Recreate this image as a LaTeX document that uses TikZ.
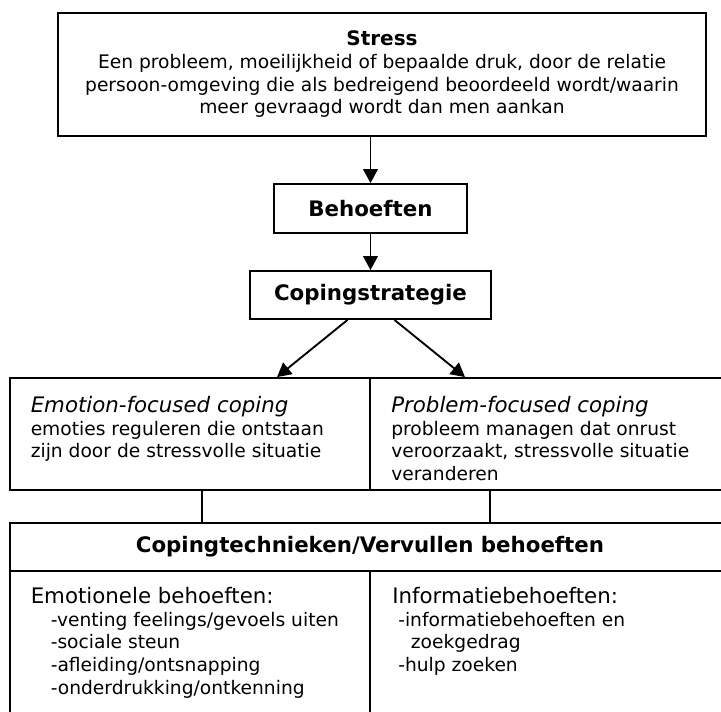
\documentclass[tikz,border=0pt]{standalone}
\usepackage{fontspec}
\setmainfont{DejaVu Sans}
\usetikzlibrary{positioning,arrows.meta,calc}
\newcommand{\hdfont}{\fontsize{16}{17}\selectfont}

\begin{document}
\begin{tikzpicture}[x=0.75pt, y=-0.75pt,
  blk/.style={draw, line width=1.4pt, inner sep=0pt, align=center, font=\fontsize{14}{17}\selectfont},
  cell/.style={draw, line width=1.4pt, inner sep=0pt, minimum width=270pt},
  txt/.style={inner sep=0pt, anchor=north west, align=left, font=\fontsize{14}{17}\selectfont},
  >={Triangle[length=10.5pt, width=11pt]}]
\useasboundingbox (0,0) rectangle (721,711);
\clip (0,0) rectangle (721,711);
\node[blk, minimum width=486pt, minimum height=92.25pt] (stress) at (382,74.5)
  {{\fontsize{15}{17}\selectfont\bfseries Stress}\\Een probleem, moeilijkheid of bepaalde druk, door de relatie\\persoon-omgeving die als bedreigend beoordeeld wordt/waarin\\meer gevraagd wordt dan men aankan};
\node[blk, minimum width=144.75pt, minimum height=36.75pt, font=\hdfont\bfseries] (beh) at (370.5,208.5) {Behoeften};
\node[blk, minimum width=180.75pt, minimum height=36pt, font=\hdfont\bfseries] (strat) at (370.5,295) {Copingstrategie};
\draw[line width=1.4pt, ->] (stress.south -| beh.north) -- (beh.north);
\draw[line width=1.4pt, ->] (beh.south) -- (strat.north);
% coping cells
\node[cell, minimum height=84pt] (emo) at (190,434) {};
\node[cell, minimum height=84pt] (prob) at (550,434) {};
\draw[line width=1.4pt, ->] ([xshift=-17.25pt]strat.south) -- ([xshift=65.25pt]emo.north);
\draw[line width=1.4pt, ->] ([xshift=18pt]strat.south) -- ([xshift=-63.75pt]prob.north);
\node[txt] (emotxt) at (30.5,396) {{\hdfont\itshape Emotion-focused coping}\\emoties reguleren die ontstaan\\zijn door de stressvolle situatie};
\node[txt] (probtxt) at (391,396) {{\hdfont\itshape Problem-focused coping}\\probleem managen dat onrust\\veroorzaakt, stressvolle situatie\\veranderen};
% technieken
\node[blk, minimum width=540pt, minimum height=36pt, font=\hdfont\bfseries] (tech) at (370,547) {Copingtechnieken/Vervullen behoeften};
\node[cell, minimum height=119.25pt] (emobeh) at (190,650.5) {};
\node[cell, minimum height=119.25pt] (infobeh) at (550,650.5) {};
\draw[line width=1.4pt] ([xshift=9pt]emo.south) -- ([xshift=9pt]emo.south |- tech.north);
\draw[line width=1.4pt] ([xshift=-45pt]prob.south) -- ([xshift=-45pt]prob.south |- tech.north);
\node[txt] (emobehtxt) at (30.5,587) {{\hdfont Emotionele behoeften:}\\
  \hspace*{15pt}-venting feelings/gevoels uiten\\
  \hspace*{15pt}-sociale steun\\
  \hspace*{15pt}-afleiding/ontsnapping\\
  \hspace*{15pt}-onderdrukking/ontkenning};
\node[txt] (infobehtxt) at (392,587) {{\hdfont Informatiebehoeften:}\\
  \hspace*{4.5pt}-informatiebehoeften en\\
  \hspace*{14pt}zoekgedrag\\
  \hspace*{4.5pt}-hulp zoeken};
\end{tikzpicture}
\end{document}
